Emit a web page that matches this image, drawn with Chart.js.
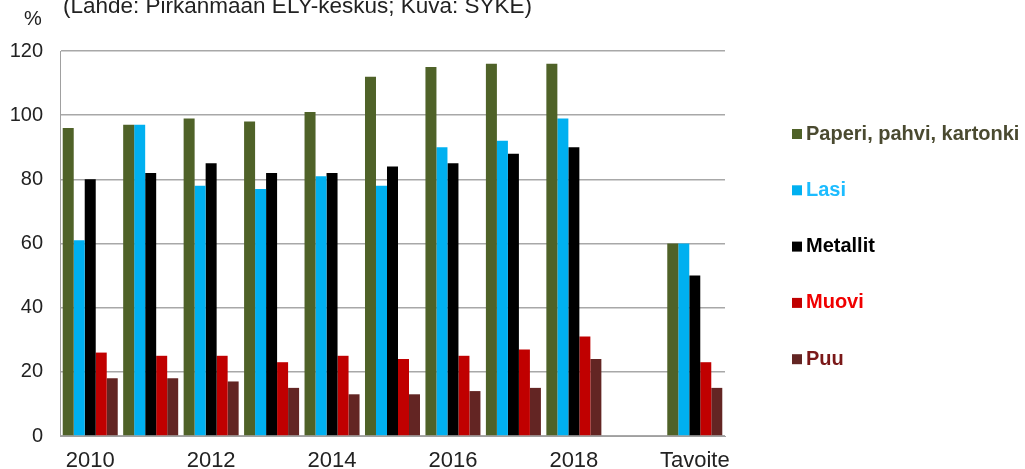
<!DOCTYPE html>
<html>
<head>
<meta charset="utf-8">
<script src="https://cdn.jsdelivr.net/npm/chart.js@4/dist/chart.umd.min.js"></script>
<style>
  html, body { margin: 0; padding: 0; background: #fff; }
  #wrap { width: 1025px; height: 469px; position: relative; }
</style>
</head>
<body>
<div id="wrap"><canvas id="recycleChart"></canvas></div>
<script>
// Categories (empty slot between 2018 and the target)
const years = ['2010', '2011', '2012', '2013', '2014', '2015', '2016', '2017', '2018', '', 'Tavoite'];

// Series values, %
const paperi   = [96, 97, 99, 98, 101, 112, 115, 116, 116, null, 60];
const lasi     = [61, 97, 78, 77, 81, 78, 90, 92, 99, null, 60];
const metallit = [80, 82, 85, 82, 82, 84, 85, 88, 90, null, 50];
const muovi    = [26, 25, 25, 23, 25, 24, 25, 27, 31, null, 23];
const puu      = [18, 18, 17, 15, 13, 13, 14, 15, 24, null, 15];

const seriesNames = ['Paperi, pahvi, kartonki', 'Lasi', 'Metallit', 'Muovi', 'Puu'];
const yTicks = [0, 20, 40, 60, 80, 100, 120];

const barColors  = ['#4F6228', '#00B0F0', '#000000', '#C00000', '#632523'];
const textColors = ['#4a4a30', '#1cbcff', '#000000', '#f00000', '#7a1818'];

// Title, % label and the legend on the right
const decorPlugin = {
    id: 'decor',
    afterDraw(chart) {
        const ctx = chart.ctx;
        const area = chart.chartArea;
        ctx.save();
        ctx.fillStyle = '#222';
        ctx.textBaseline = 'alphabetic';
        ctx.textAlign = 'left';
        ctx.font = '22.5px "Liberation Sans", Arial, sans-serif';
        ctx.fillText('(Lähde: Pirkanmaan ELY-keskus; Kuva: SYKE)', 63, 13);
        ctx.font = '20px "Liberation Sans", Arial, sans-serif';
        ctx.fillText('%', 24, 25);

        ctx.font = 'bold 20px "Liberation Sans", Arial, sans-serif';
        ctx.textBaseline = 'middle';
        const x0 = area.right + 67;
        chart.data.datasets.forEach((ds, i) => {
            const y = area.top + 83 + i * 56.3;
            ctx.fillStyle = ds.backgroundColor;
            ctx.fillRect(x0, y - 5, 10, 10);
            ctx.fillStyle = textColors[i];
            ctx.fillText(ds.label, x0 + 14, y);
        });
        ctx.restore();
    }
};

const allSeries = [paperi, lasi, metallit, muovi, puu];

new Chart(document.getElementById('recycleChart'), {
    type: 'bar',
    data: {
        labels: years,
        datasets: allSeries.map((vals, i) => ({
            label: seriesNames[i],
            data: vals,
            backgroundColor: barColors[i],
            borderWidth: 0
        }))
    },
    options: {
        responsive: true,
        maintainAspectRatio: false,
        animation: false,
        layout: { padding: { top: 51, right: 300, left: 0, bottom: 0 } },
        datasets: {
            bar: { categoryPercentage: 0.91, barPercentage: 1.0 }
        },
        plugins: {
            legend: { display: false },
            tooltip: { enabled: false }
        },
        scales: {
            x: {
                grid: { display: false, drawTicks: false },
                border: { color: '#a0a0a0', width: 1 },
                afterFit: scale => { scale.height = 33; },
                ticks: {
                    autoSkip: false,
                    maxRotation: 0,
                    color: '#222',
                    padding: 12,
                    font: { size: 22, family: '"Liberation Sans", Arial, sans-serif' },
                    callback: function(val, idx) {
                        return idx % 2 === 0 ? this.getLabelForValue(val) : '';
                    }
                }
            },
            y: {
                min: 0,
                max: 120,
                afterBuildTicks: axis => { axis.ticks = yTicks.map(v => ({ value: v })); },
                afterFit: scale => { scale.width = 60; },
                grid: { color: '#a8a8a8', lineWidth: 1.5, drawTicks: false },
                border: { color: '#a0a0a0', width: 1 },
                ticks: {
                    color: '#222',
                    padding: 17,
                    font: { size: 20, family: '"Liberation Sans", Arial, sans-serif' }
                }
            }
        }
    },
    plugins: [decorPlugin]
});
</script>
</body>
</html>
